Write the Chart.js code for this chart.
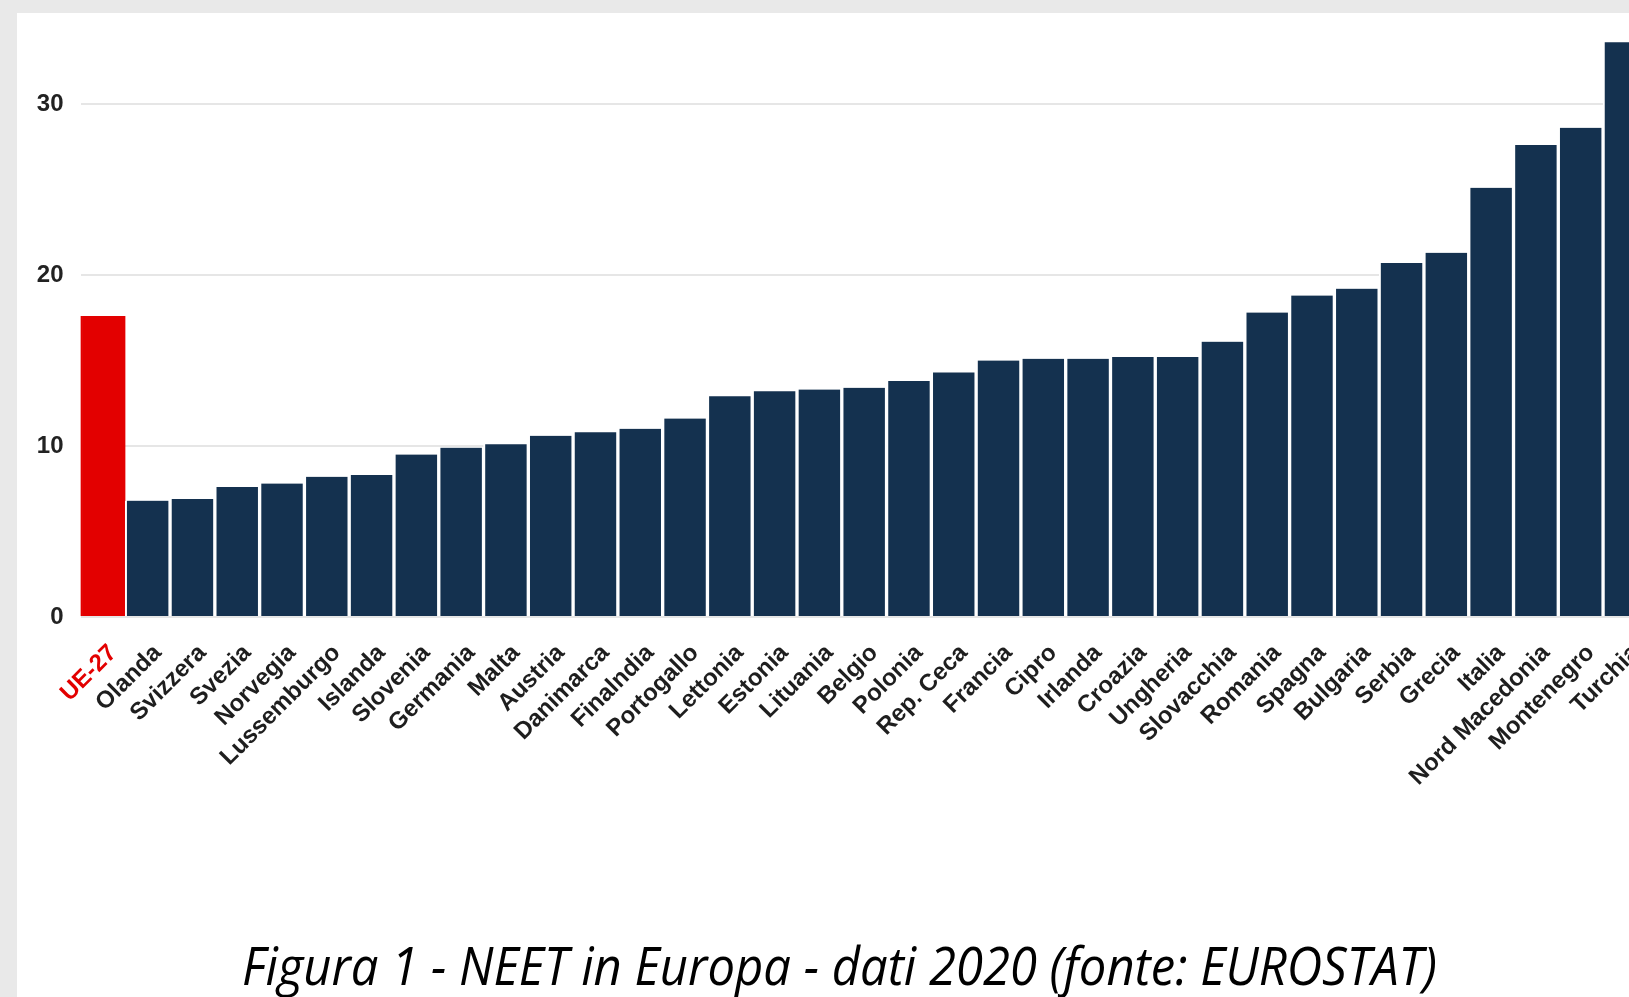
<!DOCTYPE html>
<html lang="it">
<head>
<meta charset="utf-8">
<title>NEET in Europa - dati 2020</title>
<script src="https://cdn.jsdelivr.net/npm/chart.js@4.4.1/dist/chart.umd.min.js"></script>
<style>
  html, body { margin: 0; padding: 0; width: 1629px; height: 997px; overflow: hidden; background: #e9e9e9; }
  #foglio { position: absolute; left: 17px; top: 13px; right: 0; bottom: 0; background: #fff; }
  #contenitore { position: absolute; left: 0; top: -13px; width: 1660px; height: 913px; }
  #didascalia { position: absolute; left: 242px; top: 938px; font: italic 53px/53px "Open Sans", sans-serif;
                white-space: nowrap; transform-origin: left top; color: #000; }
</style>
</head>
<body>
<div id="foglio"></div>
<div id="contenitore"><canvas id="grafico"></canvas></div>
<div id="didascalia">Figura 1 - NEET in Europa - dati 2020 (fonte: EUROSTAT)</div>

<script>
const paesi = ["UE-27", "Olanda", "Svizzera", "Svezia", "Norvegia", "Lussemburgo", "Islanda", "Slovenia",
  "Germania", "Malta", "Austria", "Danimarca", "Finalndia", "Portogallo", "Lettonia", "Estonia", "Lituania",
  "Belgio", "Polonia", "Rep. Ceca", "Francia", "Cipro", "Irlanda", "Croazia", "Ungheria", "Slovacchia",
  "Romania", "Spagna", "Bulgaria", "Serbia", "Grecia", "Italia", "Nord Macedonia", "Montenegro", "Turchia"];

const neet = [17.6, 6.8, 6.9, 7.6, 7.8, 8.2, 8.3, 9.5, 9.9, 10.1, 10.6, 10.8, 11.0, 11.6, 12.9, 13.2, 13.3,
  13.4, 13.8, 14.3, 15.0, 15.1, 15.1, 15.2, 15.2, 16.1, 17.8, 18.8, 19.2, 20.7, 21.3, 25.1, 27.6, 28.6, 33.6];

const tickY = [0, 10, 20, 30];

const rosso = "#e30000";
const blu = "#14314f";
const fontAssi = { family: "'Liberation Sans', Arial, sans-serif", weight: "bold", size: 24 };

const ctx = document.getElementById("grafico").getContext("2d");
const chart = new Chart(ctx, {
  type: "bar",
  data: {
    labels: paesi,
    datasets: [{
      data: neet,
      backgroundColor: paesi.map((_, i) => i === 0 ? rosso : blu),
      borderColor: paesi.map((_, i) => i === 0 ? rosso : "#ffffff"),
      borderWidth: { left: 2, right: 2, top: 0, bottom: 0 },
      barPercentage: 1,
      categoryPercentage: 1
    }]
  },
  options: {
    responsive: true,
    maintainAspectRatio: false,
    animation: false,
    layout: { padding: { top: 5, right: 12, left: 0, bottom: 0 } },
    plugins: {
      legend: { display: false },
      tooltip: { enabled: false }
    },
    scales: {
      x: {
        grid: { display: false },
        border: { display: false },
        ticks: {
          autoSkip: false,
          minRotation: 45,
          maxRotation: 45,
          padding: 14,
          labelOffset: 10,
          color: c => c.index === 0 ? rosso : "#1e1e1e",
          font: fontAssi
        },
        afterFit: s => { s.height = 283; }
      },
      y: {
        min: 0,
        max: 35,
        grid: { color: "#e6e6e6", lineWidth: 2, drawTicks: false },
        border: { display: false },
        ticks: { padding: 17, color: "#222", font: fontAssi },
        afterBuildTicks: s => { s.ticks = tickY.map(v => ({ value: v })); },
        afterFit: s => { s.width = 80.5; }
      }
    }
  }
});

// didascalia stretta come nell'originale
const cap = document.getElementById("didascalia");
const larg = cap.getBoundingClientRect().width;
cap.style.transform = `scaleX(${1195 / larg})`;
</script>
</body>
</html>
